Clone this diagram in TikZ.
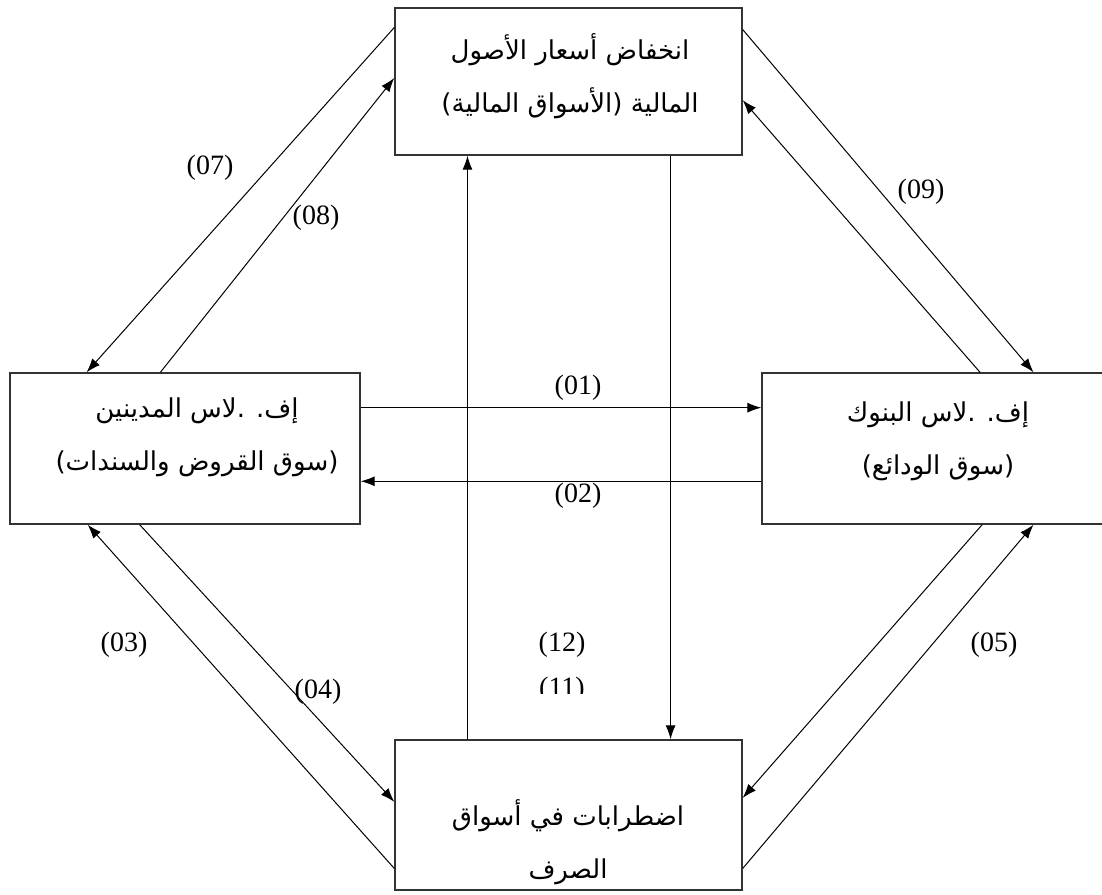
\documentclass[tikz,border=0pt]{standalone}
\usepackage{fontspec}
\setmainfont{Liberation Serif}
\newfontfamily\arabicfont[Script=Arabic]{DejaVu Sans}
\TeXXeTstate=1
\usetikzlibrary{calc,arrows.meta}
\begin{document}
\begin{tikzpicture}[x=1pt,y=-1pt,
  box/.style={draw=black!80, line width=1.4pt, inner sep=0pt, fill=none},
  arr/.style={draw=black, line width=1pt, -{Latex[length=14pt,width=10pt]}},
  lbl/.style={font=\fontsize{28}{32}\selectfont, inner sep=0pt},
  ar/.style={font=\arabicfont\fontsize{26}{53}\selectfont, inner sep=0pt, align=center}]
\clip (0,0) rectangle (1102,894);
\fill[white] (0,0) rectangle (1102,894);
% boxes
\node[box, minimum width=347pt, minimum height=147pt] (top) at (568.5,81.5) {};
\node[box, minimum width=350pt, minimum height=151pt] (left) at (185,448.5) {};
\node[box, minimum width=348pt, minimum height=151pt] (right) at (936,448.5) {};
\node[box, minimum width=347pt, minimum height=150pt] (bot) at (568.5,815) {};
% texts
\node[ar] (ttop) at (570,76) {\beginR انخفاض أسعار الأصول\endR\\\beginR المالية (الأسواق المالية)\endR};
\node[ar] (tleft) at (197,437) {\beginR إف. .لاس المدينين\endR\\\beginR (سوق القروض والسندات)\endR};
\node[ar] (tright) at (938,441) {\beginR إف. .لاس البنوك\endR\\\beginR (سوق الودائع)\endR};
\node[ar] (tbot) at (568,842) {\beginR اضطرابات في أسواق\endR\\\beginR الصرف\endR};
% connectors
\draw[arr] ($(top.north west)!0.136!(top.south west)$) -- ($(left.north west)!0.22!(left.north east)$);
\draw[arr] ($(left.north west)!0.43!(left.north east)$) -- ($(top.north west)!0.476!(top.south west)$);
\draw[arr] ($(top.north east)!0.15!(top.south east)$) -- ($(right.north west)!0.779!(right.north east)$);
\draw[arr] ($(right.north west)!0.626!(right.north east)$) -- ($(top.north east)!0.626!(top.south east)$);
\draw[arr] ($(bot.north west)!0.853!(bot.south west)$) -- ($(left.south west)!0.223!(left.south east)$);
\draw[arr] ($(left.south west)!0.371!(left.south east)$) -- ($(bot.north west)!0.413!(bot.south west)$);
\draw[arr] ($(right.south west)!0.632!(right.south east)$) -- ($(bot.north east)!0.387!(bot.south east)$);
\draw[arr] ($(bot.north east)!0.853!(bot.south east)$) -- ($(right.south west)!0.779!(right.south east)$);
\draw[arr] ($(left.north east)!0.232!(left.south east)$) -- ($(right.north west)!0.232!(right.south west)$);
\draw[arr] ($(right.north west)!0.715!(right.south west)$) -- ($(left.north east)!0.715!(left.south east)$);
\draw[arr] ($(bot.north west)!0.21!(bot.north east)$) -- ($(top.south west)!0.21!(top.south east)$);
\draw[arr] ($(top.south west)!0.793!(top.south east)$) -- ($(bot.north west)!0.793!(bot.north east)$);
% labels
\node[lbl] (l07) at (210,168) {(07)};
\node[lbl] (l08) at (316,218) {(08)};
\node[lbl] (l09) at (921,192) {(09)};
\node[lbl] (l01) at (578,388) {(01)};
\node[lbl] (l02) at (578,496) {(02)};
\node[lbl] (l03) at (124,645) {(03)};
\node[lbl] (l04) at (318,692) {(04)};
\node[lbl] (l05) at (994,645) {(05)};
\node[lbl] (l12) at (562,645) {(12)};
\begin{scope}
\clip (520,660) rectangle (620,693);
\node[lbl] (l11) at (562,690) {(11)};
\end{scope}
\end{tikzpicture}
\end{document}
